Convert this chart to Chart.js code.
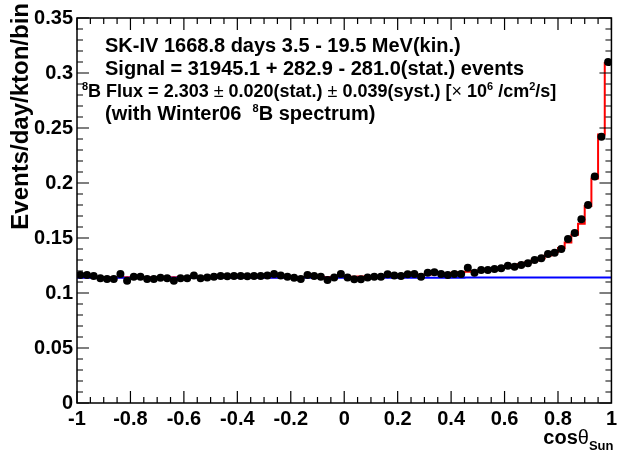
<!DOCTYPE html>
<html>
<head>
<meta charset="utf-8">
<script src="https://cdn.jsdelivr.net/npm/chart.js@4.4.1/dist/chart.umd.min.js"></script>
<style>
  html, body { margin: 0; padding: 0; background: #fff; }
  canvas { display: block; }
</style>
</head>
<body>
<canvas id="c" width="621" height="454"></canvas>
<script>
// cos(theta_sun) histogram, 80 bins from -1 to 1
const xMin = -1, xMax = 1, nBins = 80;
const binWidth = (xMax - xMin) / nBins;

// data points (events/day/kton/bin)
const dataValues = [
  0.1164, 0.1164, 0.1155, 0.1133, 0.1127, 0.1127, 0.1173, 0.1112, 0.1148, 0.1148,
  0.1127, 0.1127, 0.1139, 0.1133, 0.1112, 0.1133, 0.1133, 0.1158, 0.1133, 0.1142,
  0.1148, 0.1155, 0.1152, 0.1155, 0.1155, 0.1152, 0.1155, 0.1155, 0.1158, 0.1173,
  0.1158, 0.1148, 0.1139, 0.1127, 0.1164, 0.1155, 0.1148, 0.1118, 0.1142, 0.1173,
  0.1142, 0.1124, 0.1124, 0.1142, 0.1148, 0.1148, 0.1170, 0.1158, 0.1155, 0.1170,
  0.1173, 0.1148, 0.1185, 0.1188, 0.1173, 0.1164, 0.1173, 0.1173, 0.1230, 0.1185,
  0.1209, 0.1209, 0.1218, 0.1224, 0.1248, 0.1239, 0.1255, 0.1270, 0.1300, 0.1315,
  0.1355, 0.1367, 0.1400, 0.1490, 0.1545, 0.1670, 0.1800, 0.2060, 0.2420, 0.3100
];

// best fit (signal + background), red histogram
const fitValues = [
  0.1144, 0.1144, 0.1144, 0.1144, 0.1144, 0.1144, 0.1144, 0.1144, 0.1144, 0.1144,
  0.1144, 0.1144, 0.1144, 0.1144, 0.1144, 0.1144, 0.1144, 0.1144, 0.1144, 0.1144,
  0.1144, 0.1144, 0.1144, 0.1144, 0.1144, 0.1144, 0.1144, 0.1144, 0.1144, 0.1144,
  0.1144, 0.1145, 0.1145, 0.1145, 0.1145, 0.1145, 0.1145, 0.1145, 0.1145, 0.1146,
  0.1147, 0.1148, 0.1149, 0.1150, 0.1151, 0.1153, 0.1155, 0.1157, 0.1159, 0.1161,
  0.1163, 0.1166, 0.1169, 0.1172, 0.1175, 0.1179, 0.1183, 0.1188, 0.1193, 0.1199,
  0.1205, 0.1212, 0.1220, 0.1229, 0.1239, 0.1250, 0.1263, 0.1278, 0.1296, 0.1317,
  0.1342, 0.1372, 0.1410, 0.1460, 0.1530, 0.1630, 0.1790, 0.2040, 0.2440, 0.3090
];

// background, blue histogram
const bkgValues = [
  0.1138, 0.1138, 0.1138, 0.1138, 0.1138, 0.1138, 0.1138, 0.1138, 0.1138, 0.1138,
  0.1138, 0.1138, 0.1138, 0.1138, 0.1138, 0.1138, 0.1138, 0.1138, 0.1138, 0.1138,
  0.1138, 0.1138, 0.1138, 0.1138, 0.1138, 0.1138, 0.1138, 0.1138, 0.1138, 0.1138,
  0.1138, 0.1138, 0.1138, 0.1138, 0.1138, 0.1138, 0.1138, 0.1138, 0.1138, 0.1138,
  0.1138, 0.1138, 0.1138, 0.1138, 0.1138, 0.1138, 0.1138, 0.1138, 0.1139, 0.1139,
  0.1139, 0.1139, 0.1139, 0.1139, 0.1139, 0.1139, 0.1139, 0.1139, 0.1140, 0.1140,
  0.1140, 0.1140, 0.1140, 0.1140, 0.1140, 0.1140, 0.1140, 0.1140, 0.1140, 0.1140,
  0.1140, 0.1140, 0.1140, 0.1140, 0.1140, 0.1140, 0.1140, 0.1140, 0.1140, 0.1140
];

const yMin = 0, yMax = 0.35;
const FONT = '"Liberation Sans", Arial, Helvetica, sans-serif';

// ---- helpers ----
const binCenters = dataValues.map((_, i) => xMin + binWidth * (i + 0.5));

function histOutline(vals) {
    const pts = [];
    vals.forEach((v, i) => {
        const lo = xMin + i * binWidth;
        pts.push({ x: lo, y: v }, { x: lo + binWidth, y: v });
    });
    return pts;
}

// draw a run of text pieces: [text, font, dy]
function drawRich(ctx, x, y, parts) {
    let cx = x;
    parts.forEach(([t, f, dy]) => {
        ctx.font = f;
        ctx.fillText(t, cx, y + (dy || 0));
        cx += ctx.measureText(t).width;
    });
    return cx;
}
function richWidth(ctx, parts) {
    let w = 0;
    parts.forEach(([t, f]) => { ctx.font = f; w += ctx.measureText(t).width; });
    return w;
}

// ---- ROOT-like frame, inside ticks and labels ----
const rootFrame = {
    id: 'rootFrame',
    afterDraw(chart) {
        const ctx = chart.ctx;
        const a = chart.chartArea;
        const xs = chart.scales.x, ys = chart.scales.y;
        ctx.save();
        ctx.strokeStyle = '#000';
        ctx.lineWidth = 1.5;
        ctx.strokeRect(a.left, a.top, a.right - a.left, a.bottom - a.top);

        ctx.lineWidth = 1.2;
        ctx.beginPath();
        // y ticks: major 0.05, minor 0.01
        for (let i = 0; i <= 35; i++) {
            const py = ys.getPixelForValue(i * 0.01);
            const len = i % 5 === 0 ? 12 : 6;
            ctx.moveTo(a.left, py); ctx.lineTo(a.left + len, py);
            ctx.moveTo(a.right, py); ctx.lineTo(a.right - len, py);
        }
        // x ticks: major 0.2, minor 0.05
        for (let i = 0; i <= 40; i++) {
            const px = xs.getPixelForValue(xMin + i * 0.05);
            const len = i % 4 === 0 ? 12 : 6;
            ctx.moveTo(px, a.bottom); ctx.lineTo(px, a.bottom - len);
            ctx.moveTo(px, a.top); ctx.lineTo(px, a.top + len);
        }
        ctx.stroke();

        ctx.fillStyle = '#000';
        ctx.textBaseline = 'alphabetic';
        ctx.textAlign = 'left';
        const B20 = 'bold 20px ' + FONT;
        const B18 = 'bold 18px ' + FONT;
        const sup = 'bold 11px ' + FONT;
        const sym = '18px ' + FONT;

        ctx.font = B20;
        ctx.fillText('SK-IV 1668.8 days 3.5 - 19.5 MeV(kin.)', 105, 52);
        ctx.fillText('Signal = 31945.1 + 282.9 - 281.0(stat.) events', 105, 75);
        drawRich(ctx, 82, 97, [
            ['8', sup, -7],
            ['B Flux = 2.303 ', B18], ['\u00b1', sym], [' 0.020(stat.) ', B18],
            ['\u00b1', sym], [' 0.039(syst.) [', B18], ['\u00d7', sym],
            [' 10', B18], ['6', sup, -7], [' /cm', B18], ['2', sup, -7], ['/s]', B18]
        ]);
        drawRich(ctx, 105, 120, [
            ['(with Winter06  ', B20], ['8', sup, -8], ['B spectrum)', B20]
        ]);

        // x axis title: cos(theta)_Sun, right aligned to frame
        const xt = [['cos', B20], ['\u03b8', '20px ' + FONT], ['Sun', 'bold 13px ' + FONT, 6]];
        drawRich(ctx, a.right + 2 - richWidth(ctx, xt), 444, xt);

        // y axis title, rotated, right aligned to top
        ctx.translate(21, 3);
        ctx.rotate(-Math.PI / 2);
        ctx.textAlign = 'right';
        ctx.textBaseline = 'middle';
        ctx.font = 'bold 24px ' + FONT;
        ctx.fillText('Events/day/kton/bin', 0, 0);
        ctx.restore();
    }
};

new Chart(document.getElementById('c'), {
    type: 'scatter',
    data: {
        datasets: [
            {
                label: 'data',
                data: binCenters.map((x, i) => ({ x, y: dataValues[i] })),
                backgroundColor: '#000',
                borderWidth: 0,
                pointRadius: 4,
                order: 0
            },
            {
                label: 'background',
                data: histOutline(bkgValues),
                showLine: true,
                borderColor: '#0000ff',
                borderWidth: 2,
                pointRadius: 0,
                order: 1
            },
            {
                label: 'fit',
                data: histOutline(fitValues),
                showLine: true,
                borderColor: '#ff0000',
                borderWidth: 2,
                pointRadius: 0,
                order: 2
            }
        ]
    },
    options: {
        responsive: false,
        animation: false,
        devicePixelRatio: 1,
        layout: { padding: { top: 18, right: 8, left: 0, bottom: 0 } },
        plugins: { legend: { display: false }, tooltip: { enabled: false } },
        scales: {
            x: {
                type: 'linear',
                min: xMin, max: xMax,
                grid: { display: false, drawTicks: false },
                border: { display: false },
                ticks: {
                    stepSize: 0.2,
                    autoSkip: false,
                    maxRotation: 0,
                    padding: 4,
                    color: '#000',
                    font: { family: FONT, size: 20, weight: 'bold' },
                    callback: v => String(+v.toFixed(1))
                },
                afterFit(s) { s.height = 51; }
            },
            y: {
                min: yMin, max: yMax,
                grid: { display: false, drawTicks: false },
                border: { display: false },
                ticks: {
                    stepSize: 0.05,
                    padding: 4,
                    color: '#000',
                    font: { family: FONT, size: 20, weight: 'bold' },
                    callback: v => String(+v.toFixed(2))
                },
                afterFit(s) { s.width = 77; }
            }
        }
    },
    plugins: [rootFrame]
});
</script>
</body>
</html>
